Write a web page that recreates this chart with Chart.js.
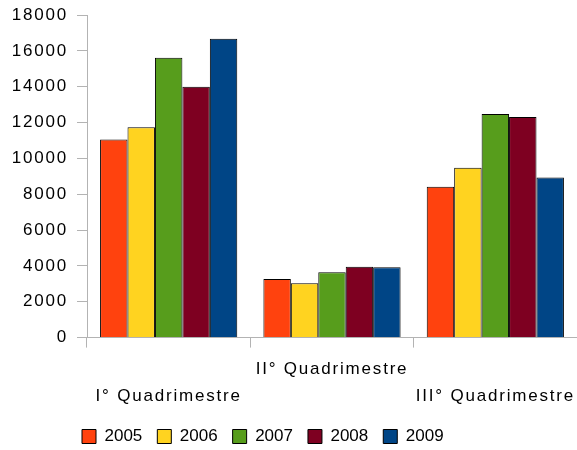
<!DOCTYPE html>
<html>
<head>
<meta charset="utf-8">
<script src="https://cdn.jsdelivr.net/npm/chart.js@4"></script>
<style>
  html, body { margin: 0; padding: 0; background: #fff; }
  #wrap { width: 577px; height: 450px; position: relative; }
</style>
</head>
<body>
<div id="wrap"><canvas id="chart"></canvas></div>
<script>
const quarters = ["I° Quadrimestre", "II° Quadrimestre", "III° Quadrimestre"];
const years = ["2005", "2006", "2007", "2008", "2009"];
const colors = ["#ff420e", "#ffd320", "#579d1c", "#7e0021", "#004586"];

const v2005 = [11060, 3270, 8410];
const v2006 = [11730, 3030, 9480];
const v2007 = [15620, 3640, 12470];
const v2008 = [14000, 3960, 12310];
const v2009 = [16680, 3920, 8940];

const series = [v2005, v2006, v2007, v2008, v2009];

// staggered category labels: middle one sits on the first line
const labels = quarters.map((q, i) => (i % 2 ? [q, ""] : ["", q]));

Chart.defaults.font.family = "'Liberation Sans', Arial, sans-serif";
Chart.defaults.color = "#000";

const axisGrey = "#b3b3b3";

// legend nudged into place, axis labels get wider letter spacing
const tweaks = {
  id: "tweaks",
  afterLayout(chart) {
    chart.legend.left = 67;
    chart.legend.top -= 5;
    chart.legend.bottom -= 5;
  },
  afterDatasetsDraw(chart) {
    chart.ctx.letterSpacing = "1.8px";
  },
  afterDraw(chart) {
    chart.ctx.letterSpacing = "0px";
  },
};

new Chart(document.getElementById("chart"), {
  type: "bar",
  data: {
    labels,
    datasets: years.map((y, i) => ({
      label: y,
      data: series[i],
      backgroundColor: colors[i],
      borderColor: "#000",
      borderWidth: 1,
      barPercentage: 1,
      categoryPercentage: 0.84,
    })),
  },
  options: {
    responsive: true,
    maintainAspectRatio: false,
    animation: false,
    layout: { padding: { top: 15, right: -4, left: 0, bottom: -10 } },
    plugins: {
      legend: {
        position: "bottom",
        align: "start",
        labels: { boxWidth: 14, boxHeight: 14, padding: 15, font: { size: 17 }, color: "#000" },
      },
      tooltip: { enabled: false },
    },
    scales: {
      x: {
        grid: { offset: true, drawOnChartArea: false, tickLength: 10, color: axisGrey },
        border: { color: axisGrey },
        ticks: {
          z: 1,
          padding: 8,
          maxRotation: 0,
          autoSkip: false,
          font: { size: 17, lineHeight: 1.6 },
          color: "#000",
        },
      },
      y: {
        min: 0,
        max: 18000,
        afterFit: (s) => {
          s.width = 87;
          s.paddingTop = 0;
          s.paddingBottom = 0;
        },
        grid: { drawOnChartArea: false, tickLength: 10, color: axisGrey },
        border: { color: axisGrey },
        ticks: {
          z: 1,
          stepSize: 2000,
          padding: 9,
          font: { size: 17 },
          color: "#000",
          callback: (v) => String(v),
        },
      },
    },
  },
  plugins: [tweaks],
});
</script>
</body>
</html>
